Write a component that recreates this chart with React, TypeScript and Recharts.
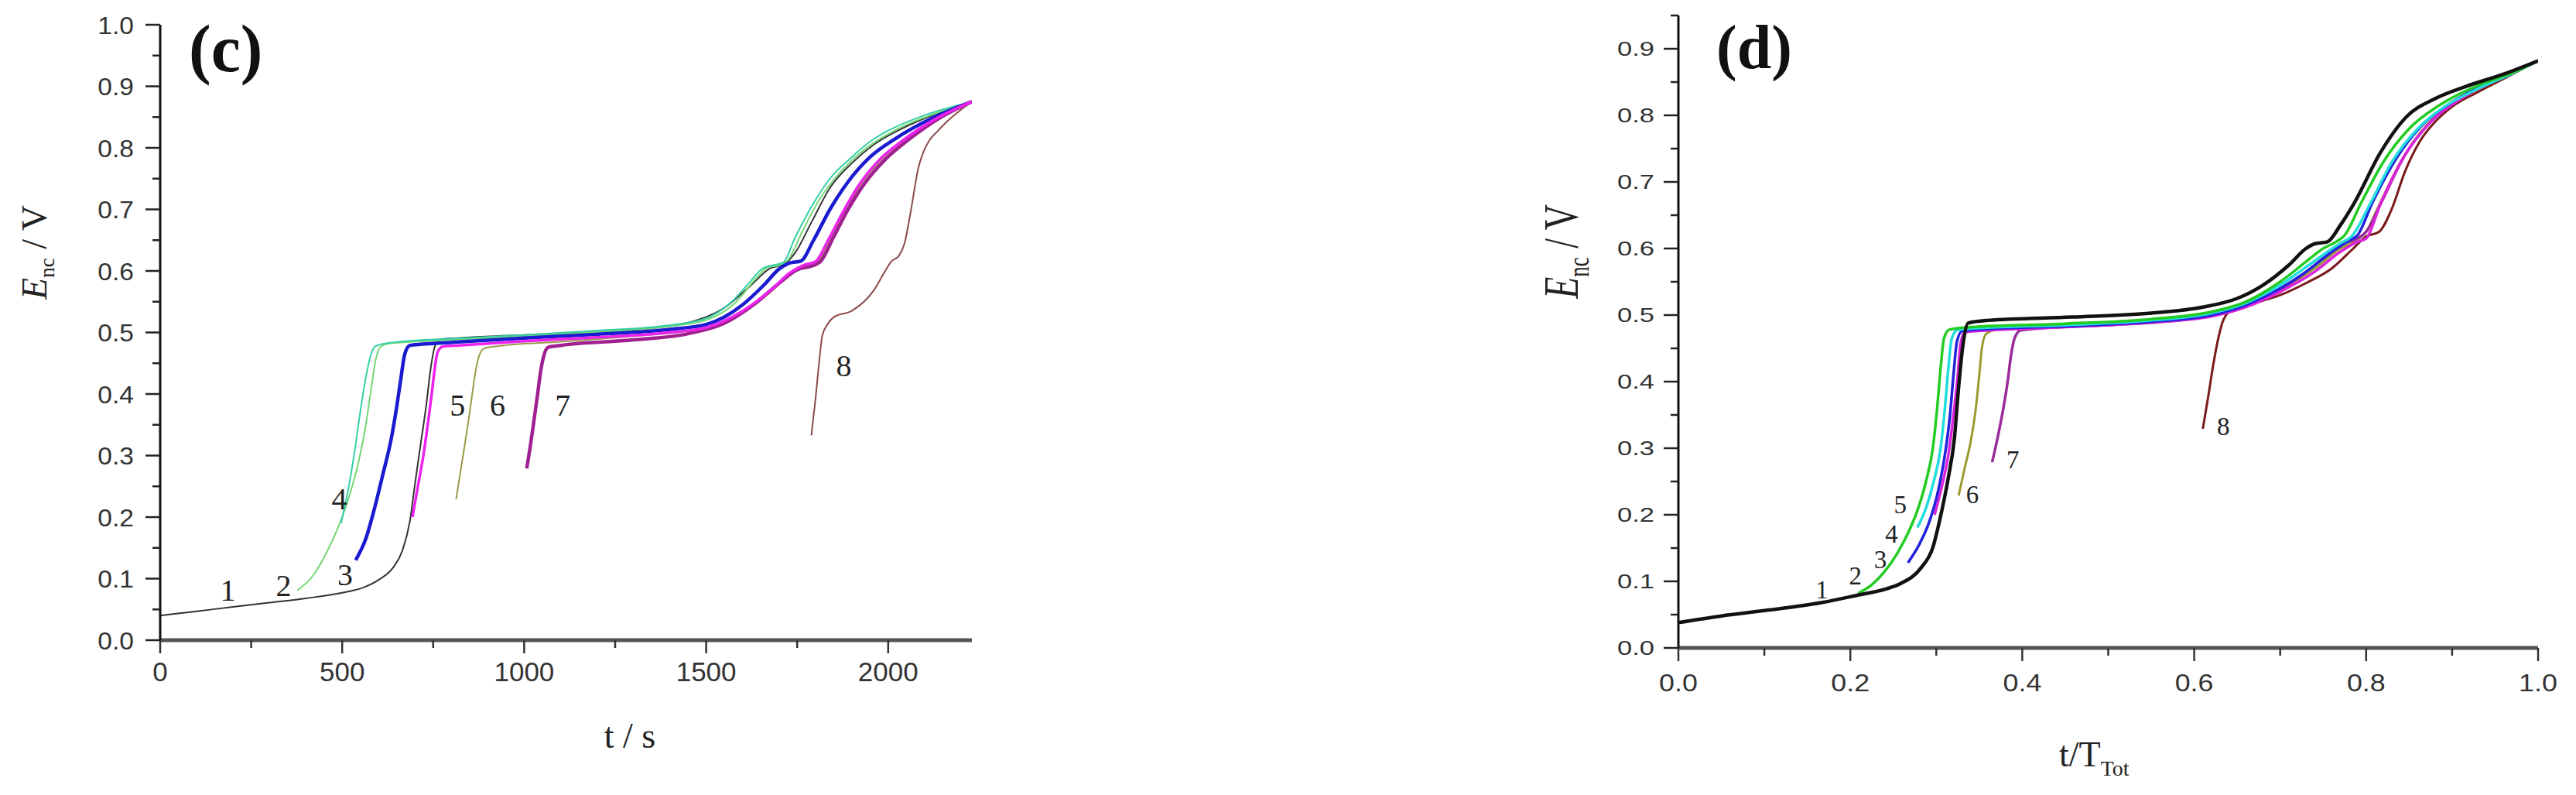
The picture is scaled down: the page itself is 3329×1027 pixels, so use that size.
import React from 'react';
import { LineChart, Line, XAxis, YAxis, ReferenceDot } from 'recharts';

type Pt = [number, number];

// ---- panel (c): E_nc vs t / s ----
const c1: Pt[] = [[0, 0.04], [100, 0.047], [200, 0.054], [300, 0.061], [400, 0.068], [500, 0.077], [560, 0.086], [600, 0.098], [640, 0.118], [665, 0.145], [685, 0.19], [701, 0.258], [716, 0.32], [731, 0.382], [744, 0.445], [755, 0.478], [770, 0.489], [850, 0.492], [1000, 0.496], [1200, 0.501], [1350, 0.507], [1450, 0.516], [1550, 0.54], [1620, 0.575], [1675, 0.604], [1715, 0.611], [1745, 0.63], [1790, 0.68], [1840, 0.735], [1900, 0.775], [1960, 0.805], [2040, 0.832], [2130, 0.855], [2230, 0.875]];
const c2: Pt[] = [[377, 0.081], [420, 0.105], [455, 0.14], [490, 0.185], [520, 0.235], [545, 0.29], [565, 0.35], [580, 0.41], [593, 0.458], [606, 0.477], [630, 0.482], [800, 0.488], [1000, 0.494], [1200, 0.501], [1400, 0.51], [1500, 0.52], [1580, 0.548], [1640, 0.59], [1670, 0.606], [1700, 0.609], [1725, 0.618], [1765, 0.665], [1810, 0.715], [1860, 0.755], [1910, 0.785], [1960, 0.808], [2030, 0.832], [2130, 0.856], [2230, 0.875]];
const c3: Pt[] = [[537, 0.13], [565, 0.165], [590, 0.217], [612, 0.27], [634, 0.325], [650, 0.38], [660, 0.42], [672, 0.465], [686, 0.479], [720, 0.481], [800, 0.484], [1000, 0.491], [1200, 0.497], [1400, 0.505], [1500, 0.513], [1600, 0.545], [1660, 0.578], [1700, 0.603], [1730, 0.613], [1760, 0.616], [1795, 0.65], [1840, 0.7], [1890, 0.745], [1950, 0.785], [2020, 0.815], [2120, 0.848], [2230, 0.875]];
const c4: Pt[] = [[497, 0.19], [515, 0.24], [535, 0.31], [552, 0.38], [566, 0.43], [578, 0.462], [592, 0.478], [640, 0.484], [800, 0.49], [1000, 0.496], [1200, 0.503], [1400, 0.512], [1500, 0.523], [1570, 0.55], [1620, 0.582], [1655, 0.604], [1690, 0.61], [1712, 0.614], [1745, 0.655], [1790, 0.705], [1840, 0.75], [1900, 0.785], [1950, 0.81], [2000, 0.828], [2100, 0.853], [2230, 0.875]];
const c5: Pt[] = [[693, 0.2], [708, 0.25], [723, 0.3], [735, 0.35], [746, 0.4], [754, 0.44], [762, 0.468], [776, 0.477], [820, 0.479], [1000, 0.486], [1200, 0.492], [1400, 0.5], [1500, 0.508], [1600, 0.535], [1680, 0.57], [1730, 0.597], [1770, 0.61], [1800, 0.615], [1835, 0.65], [1875, 0.695], [1920, 0.74], [1975, 0.78], [2040, 0.812], [2130, 0.847], [2230, 0.875]];
const c6: Pt[] = [[813, 0.229], [828, 0.285], [843, 0.341], [855, 0.39], [865, 0.432], [876, 0.462], [890, 0.474], [930, 0.478], [1100, 0.485], [1300, 0.494], [1500, 0.507], [1600, 0.532], [1680, 0.567], [1740, 0.6], [1780, 0.61], [1810, 0.618], [1845, 0.655], [1885, 0.7], [1930, 0.745], [1985, 0.783], [2050, 0.815], [2140, 0.85], [2230, 0.875]];
const c7: Pt[] = [[1007, 0.279], [1018, 0.32], [1029, 0.366], [1037, 0.4], [1044, 0.432], [1053, 0.46], [1066, 0.476], [1100, 0.479], [1300, 0.488], [1450, 0.498], [1550, 0.515], [1630, 0.545], [1700, 0.58], [1750, 0.602], [1790, 0.608], [1815, 0.616], [1850, 0.655], [1890, 0.7], [1935, 0.742], [1990, 0.78], [2060, 0.815], [2140, 0.848], [2230, 0.875]];
const c8: Pt[] = [[1789, 0.333], [1800, 0.39], [1810, 0.45], [1819, 0.495], [1834, 0.514], [1851, 0.525], [1900, 0.535], [1960, 0.568], [1990, 0.598], [2008, 0.615], [2030, 0.625], [2045, 0.645], [2060, 0.69], [2084, 0.77], [2098, 0.795], [2113, 0.812], [2134, 0.826], [2162, 0.843], [2200, 0.862], [2230, 0.875]];

const cXTicks = [0, 250, 500, 750, 1000, 1250, 1500, 1750, 2000];
const cYTicks = [0, 0.05, 0.1, 0.15, 0.2, 0.25, 0.3, 0.35, 0.4, 0.45, 0.5, 0.55, 0.6, 0.65, 0.7, 0.75, 0.8, 0.85, 0.9, 0.95, 1.0];
const cCurveLabels = [
  { n: '1', t: 186, E: 0.081 }, { n: '2', t: 339, E: 0.089 }, { n: '3', t: 508, E: 0.106 },
  { n: '4', t: 492, E: 0.23 }, { n: '5', t: 817, E: 0.382 }, { n: '6', t: 927, E: 0.382 },
  { n: '7', t: 1106, E: 0.382 }, { n: '8', t: 1878, E: 0.446 },
];

// ---- panel (d): E_nc vs t/T_Tot ----
const d1: Pt[] = [[0, 0.038], [0.05, 0.048], [0.1, 0.056], [0.166, 0.068], [0.211, 0.08], [0.24, 0.088], [0.259, 0.097], [0.282, 0.12], [0.296, 0.151], [0.305, 0.198], [0.314, 0.256], [0.321, 0.314], [0.326, 0.392], [0.331, 0.455], [0.337, 0.488], [0.36, 0.492], [0.458, 0.497], [0.55, 0.503], [0.61, 0.512], [0.65, 0.525], [0.68, 0.545], [0.71, 0.575], [0.73, 0.6], [0.74, 0.607], [0.755, 0.61], [0.77, 0.635], [0.786, 0.668], [0.817, 0.745], [0.847, 0.798], [0.88, 0.825], [0.915, 0.843], [0.96, 0.862], [1.0, 0.882]];
const d2: Pt[] = [[0.209, 0.082], [0.225, 0.095], [0.24, 0.115], [0.255, 0.143], [0.268, 0.175], [0.279, 0.21], [0.288, 0.25], [0.296, 0.3], [0.301, 0.36], [0.305, 0.42], [0.309, 0.465], [0.315, 0.478], [0.34, 0.482], [0.45, 0.487], [0.55, 0.494], [0.62, 0.505], [0.66, 0.52], [0.7, 0.55], [0.73, 0.58], [0.75, 0.6], [0.765, 0.61], [0.775, 0.62], [0.794, 0.668], [0.82, 0.73], [0.85, 0.78], [0.885, 0.815], [0.93, 0.845], [0.97, 0.864], [1.0, 0.882]];
const d3: Pt[] = [[0.267, 0.128], [0.28, 0.155], [0.292, 0.19], [0.302, 0.235], [0.31, 0.29], [0.316, 0.35], [0.32, 0.41], [0.324, 0.46], [0.33, 0.476], [0.36, 0.479], [0.45, 0.483], [0.55, 0.49], [0.62, 0.5], [0.66, 0.515], [0.7, 0.54], [0.73, 0.565], [0.76, 0.595], [0.78, 0.612], [0.79, 0.62], [0.807, 0.668], [0.835, 0.735], [0.865, 0.785], [0.9, 0.82], [0.94, 0.848], [0.97, 0.864], [1.0, 0.882]];
const d4: Pt[] = [[0.278, 0.181], [0.288, 0.21], [0.297, 0.25], [0.305, 0.3], [0.31, 0.36], [0.314, 0.42], [0.318, 0.465], [0.325, 0.478], [0.36, 0.481], [0.45, 0.485], [0.55, 0.492], [0.62, 0.503], [0.66, 0.518], [0.7, 0.545], [0.73, 0.572], [0.755, 0.595], [0.77, 0.608], [0.783, 0.618], [0.805, 0.668], [0.83, 0.73], [0.86, 0.78], [0.89, 0.812], [0.93, 0.84], [0.97, 0.863], [1.0, 0.882]];
const d5: Pt[] = [[0.298, 0.2], [0.306, 0.24], [0.314, 0.29], [0.32, 0.35], [0.325, 0.41], [0.328, 0.455], [0.333, 0.474], [0.36, 0.477], [0.45, 0.482], [0.55, 0.489], [0.62, 0.498], [0.66, 0.512], [0.7, 0.535], [0.74, 0.565], [0.77, 0.595], [0.79, 0.61], [0.8, 0.615], [0.817, 0.668], [0.845, 0.74], [0.875, 0.79], [0.91, 0.825], [0.95, 0.852], [1.0, 0.882]];
const d6: Pt[] = [[0.326, 0.229], [0.333, 0.27], [0.34, 0.31], [0.346, 0.36], [0.35, 0.41], [0.353, 0.45], [0.358, 0.472], [0.37, 0.478], [0.45, 0.482], [0.55, 0.49], [0.62, 0.5], [0.66, 0.513], [0.7, 0.538], [0.74, 0.57], [0.77, 0.6], [0.785, 0.61], [0.8, 0.625], [0.815, 0.665], [0.84, 0.73], [0.87, 0.785], [0.905, 0.822], [0.95, 0.852], [1.0, 0.882]];
const d7: Pt[] = [[0.365, 0.279], [0.372, 0.32], [0.378, 0.36], [0.383, 0.4], [0.387, 0.44], [0.391, 0.465], [0.398, 0.477], [0.42, 0.48], [0.5, 0.485], [0.6, 0.495], [0.65, 0.508], [0.69, 0.53], [0.72, 0.555], [0.75, 0.585], [0.775, 0.608], [0.79, 0.615], [0.8, 0.625], [0.818, 0.67], [0.845, 0.74], [0.875, 0.79], [0.91, 0.825], [0.95, 0.853], [1.0, 0.882]];
const d8: Pt[] = [[0.61, 0.329], [0.616, 0.375], [0.622, 0.424], [0.628, 0.465], [0.634, 0.493], [0.646, 0.51], [0.67, 0.518], [0.7, 0.53], [0.73, 0.548], [0.76, 0.57], [0.785, 0.6], [0.8, 0.618], [0.815, 0.625], [0.83, 0.66], [0.845, 0.715], [0.862, 0.76], [0.88, 0.79], [0.9, 0.813], [0.93, 0.835], [0.96, 0.855], [1.0, 0.882]];

const dXTicks = [0, 0.1, 0.2, 0.3, 0.4, 0.5, 0.6, 0.7, 0.8, 0.9, 1.0];
const dYTicks = [0, 0.05, 0.1, 0.15, 0.2, 0.25, 0.3, 0.35, 0.4, 0.45, 0.5, 0.55, 0.6, 0.65, 0.7, 0.75, 0.8, 0.85, 0.9, 0.95];
const dCurveLabels = [
  { n: '1', t: 0.167, E: 0.087 }, { n: '2', t: 0.206, E: 0.108 }, { n: '3', t: 0.235, E: 0.133 },
  { n: '4', t: 0.248, E: 0.171 }, { n: '5', t: 0.258, E: 0.215 }, { n: '6', t: 0.342, E: 0.23 },
  { n: '7', t: 0.389, E: 0.283 }, { n: '8', t: 0.634, E: 0.333 },
];

const rows = (pts: Pt[]) => pts.map(([t, E]) => ({ t, E }));

// drawing order = list order (last on top)
const cSeries = [
  { id: 'c8', pts: c8, color: '#8c4a4a', w: 2 },
  { id: 'c6', pts: c6, color: '#9a9a48', w: 2 },
  { id: 'c1', pts: c1, color: '#333333', w: 2 },
  { id: 'c2', pts: c2, color: '#74d874', w: 2 },
  { id: 'c4', pts: c4, color: '#33cfa6', w: 2 },
  { id: 'c3', pts: c3, color: '#1a1ad0', w: 4.5 },
  { id: 'c7', pts: c7, color: '#a0208f', w: 4.5 },
  { id: 'c5', pts: c5, color: '#ee22ee', w: 3.5 },
];
const dSeries = [
  { id: 'd8', pts: d8, color: '#7a1a1a', w: 3 },
  { id: 'd6', pts: d6, color: '#9a9a30', w: 3 },
  { id: 'd7', pts: d7, color: '#9b2a9b', w: 3.5 },
  { id: 'd5', pts: d5, color: '#dd22dd', w: 3.5 },
  { id: 'd3', pts: d3, color: '#2222dd', w: 3.5 },
  { id: 'd4', pts: d4, color: '#22dddd', w: 3.5 },
  { id: 'd2', pts: d2, color: '#22cc22', w: 3.5 },
  { id: 'd1', pts: d1, color: '#111111', w: 4.5 },
];

const sans = '"Liberation Sans", Arial, sans-serif';
const serif = '"Liberation Serif", "Times New Roman", serif';

const onStep = (v: number, step: number) => Math.abs(v / step - Math.round(v / step)) < 1e-6;

const makeYTick = (step: number, fs: number, gap: number, sx: number) => (props: any) => {
  const { x, y, payload } = props;
  const major = onStep(payload.value, step);
  return (
    <g>
      <line x1={x - (major ? 19 : 10)} x2={x} y1={y} y2={y} stroke="#222" strokeWidth={2.5} />
      {major && (
        <text transform={`translate(${x - gap},${y + fs * 0.36}) scale(${sx},1)`} textAnchor="end"
          fontFamily={sans} fontSize={fs} fill="#333">{payload.value.toFixed(1)}</text>
      )}
    </g>
  );
};

const makeXTick = (step: number, fs: number, base: number, sx: number, fmt: (v: number) => string) => (props: any) => {
  const { x, y, payload } = props;
  const major = onStep(payload.value, step);
  return (
    <g>
      <line x1={x} x2={x} y1={y} y2={y + (major ? 17 : 10)} stroke="#333" strokeWidth={2.5} />
      {major && (
        <text transform={`translate(${x},${y + base}) scale(${sx},1)`} textAnchor="middle"
          fontFamily={sans} fontSize={fs} fill="#333">{fmt(payload.value)}</text>
      )}
    </g>
  );
};

const curveLabel = (text: string, fs: number) => (props: any) => (
  <text x={props.cx} y={props.cy} textAnchor="middle" dominantBaseline="central"
    fontFamily={serif} fontSize={fs} fill="#222">{text}</text>
);

const PanelC = () => (
  <LineChart width={1300} height={1027} margin={{ top: 32, right: 44, left: 0, bottom: 0 }}>
    <XAxis type="number" dataKey="t" domain={[0, 2230]} ticks={cXTicks} interval={0} height={200}
      tickSize={0} tickMargin={0} tickLine={false} allowDataOverflow
      axisLine={{ stroke: '#555', strokeWidth: 5 }}
      tick={makeXTick(500, 35, 53, 1, (v) => String(v))} />
    <YAxis type="number" dataKey="E" domain={[0, 1]} ticks={cYTicks} interval={0} width={207}
      tickSize={0} tickMargin={0} tickLine={false} allowDataOverflow
      axisLine={{ stroke: '#111', strokeWidth: 3 }}
      tick={makeYTick(0.1, 32, 34, 1.05)} />
    {cSeries.map((s) => (
      <Line key={s.id} data={rows(s.pts)} dataKey="E" type="monotone" stroke={s.color} strokeWidth={s.w}
        dot={false} activeDot={false} isAnimationActive={false} />
    ))}
    {cCurveLabels.map((l) => (
      <ReferenceDot key={l.n} x={l.t} y={l.E} r={0} shape={curveLabel(l.n, 40)} />
    ))}
  </LineChart>
);

const PanelD = () => (
  <LineChart width={1429} height={1027} margin={{ top: 20, right: 49, left: 0, bottom: 0 }}>
    <XAxis type="number" dataKey="t" domain={[0, 1]} ticks={dXTicks} interval={0} height={190}
      tickSize={0} tickMargin={0} tickLine={false} allowDataOverflow
      axisLine={{ stroke: '#555', strokeWidth: 5 }}
      tick={makeXTick(0.2, 32, 56, 1.12, (v) => v.toFixed(1))} />
    <YAxis type="number" dataKey="E" domain={[0, 0.95]} ticks={dYTicks} interval={0} width={269}
      tickSize={0} tickMargin={0} tickLine={false} allowDataOverflow
      axisLine={{ stroke: '#111', strokeWidth: 3 }}
      tick={makeYTick(0.1, 25, 31, 1.38)} />
    {dSeries.map((s) => (
      <Line key={s.id} data={rows(s.pts)} dataKey="E" type="monotone" stroke={s.color} strokeWidth={s.w}
        dot={false} activeDot={false} isAnimationActive={false} />
    ))}
    {dCurveLabels.map((l) => (
      <ReferenceDot key={l.n} x={l.t} y={l.E} r={0} shape={curveLabel(l.n, 33)} />
    ))}
  </LineChart>
);

export default function App() {
  return (
    <div style={{ position: 'relative', width: 3329, height: 1027, background: '#fff' }}>
      <style>{'body{margin:0}'}</style>
      <div style={{ position: 'absolute', left: 0, top: 0 }}><PanelC /></div>
      <div style={{ position: 'absolute', left: 1900, top: 0 }}><PanelD /></div>
      <svg width={3329} height={1027} style={{ position: 'absolute', left: 0, top: 0, pointerEvents: 'none' }}>
        <text x={244} y={92} fontFamily={serif} fontWeight="bold" fontSize={86} fill="#111">(c)</text>
        <text x={2218} y={88} fontFamily={serif} fontWeight="bold" fontSize={80} fill="#111">(d)</text>
        <text transform="translate(60,326) rotate(-90)" textAnchor="middle" fontFamily={serif} fontSize={46} fill="#222">
          <tspan fontStyle="italic">E</tspan><tspan fontSize={27} dy={10}>nc</tspan><tspan dy={-10}> / V</tspan>
        </text>
        <text transform="translate(2039,325) scale(1.4,1) rotate(-90)" textAnchor="middle" fontFamily={serif} fontSize={46} fill="#222">
          <tspan fontStyle="italic">E</tspan><tspan fontSize={27} dy={10}>nc</tspan><tspan dy={-10}> / V</tspan>
        </text>
        <text x={814} y={966} textAnchor="middle" fontFamily={serif} fontSize={46} fill="#222">t / s</text>
        <text x={2661} y={990} fontFamily={serif} fontSize={46} fill="#222">
          t/T<tspan fontSize={28} dy={12}>Tot</tspan>
        </text>
      </svg>
    </div>
  );
}
